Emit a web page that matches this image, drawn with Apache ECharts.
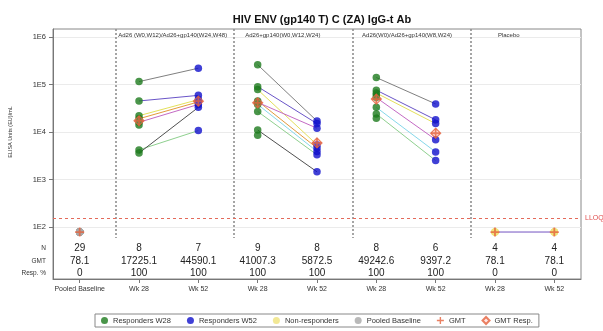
<!DOCTYPE html>
<html>
<head>
<meta charset="utf-8">
<script src="https://cdn.jsdelivr.net/npm/echarts@6/dist/echarts.min.js"></script>
<style>
  html, body { margin: 0; padding: 0; background: #fff; }
  #chart { width: 603px; height: 331px; }
</style>
</head>
<body>
<div id="chart"></div>
<script>
// ---- data ----
const categories = ['Pooled Baseline', 'Wk 28', 'Wk 52', 'Wk 28', 'Wk 52', 'Wk 28', 'Wk 52', 'Wk 28', 'Wk 52'];
const groupNames = ['Ad26 (W0,W12)/Ad26+gp140(W24,W48)', 'Ad26+gp140(W0,W12,W24)', 'Ad26(W0)/Ad26+gp140(W8,W24)', 'Placebo'];
const yTickExponents = [2, 3, 4, 5, 6];
const nValues = [29, 8, 7, 9, 8, 8, 6, 4, 4];
const gmtValues = [78.1, 17225.1, 44590.1, 41007.3, 5872.5, 49242.6, 9397.2, 78.1, 78.1];
const respPct = [0, 100, 100, 100, 100, 100, 100, 0, 0];
const lloq = 156.25;

const pooledBaseline = [78.1, 78.1, 78.1, 78.1, 78.1, 78.1, 78.1, 78.1, 78.1, 78.1,
                        78.1, 78.1, 78.1, 78.1, 78.1, 78.1, 78.1, 78.1, 78.1, 78.1,
                        78.1, 78.1, 78.1, 78.1, 78.1, 78.1, 78.1, 78.1, 78.1];

// subject-level titres per group (null = no sample)
const g1Wk28 = [115000, 45000, 22000, 19000, 16000, 14000, 4200, 3600];
const g1Wk52 = [220000, 59000, 48000, 43000, 38000, null, 10700, 33000];
const g2Wk28 = [260000, 90000, 78000, 45000, 42000, 38000, 27000, 11000, 8500];
const g2Wk52 = [17000, 15000, 5400, 4600, 12000, 3900, 3300, 1450, null];
const g3Wk28 = [140000, 76000, 66000, 60000, 53000, 33000, 24000, 19500];
const g3Wk52 = [39000, 18000, 15000, null, 6900, 3800, 2500, null];
const placeboWk28 = [78.1, 78.1, 78.1, 78.1];
const placeboWk52 = [78.1, 78.1, 78.1, 78.1];

// ---- layout / style ----
const FONT = '"Liberation Sans", Arial, sans-serif';
const Y_MIN = 0.905, Y_MAX = 6.168;      // log10 extent of the value axis
const X_MIN = -0.45, X_MAX = 8.45;
const rowY = [1.551, 1.27, 1.025];        // N / GMT / Resp. % rows (log10 units)
const rowCaptions = ['N', 'GMT', 'Resp. %'];
const headerY = 6.04;
const headerX = [0.65, 2.79, 4.76, 7.05];
const dividerX = [0.6, 2.6, 4.6, 6.6];
const dividerBottom = 1.77;
const subjectColors = ['#808080', '#6a55c8', '#e4e05a', '#e39a3c', '#c46ac4',
                       '#86d8ea', '#8fd08f', '#505050', '#b4a2de'];
const GREEN = '#1d7a1d', BLUE = '#1010cc', YELLOW = '#efe27a', GREY = '#a8a8a8', RED = '#e5613c';
const PLUS = 'path://M4,0H6V4H10V6H6V10H4V6H0V4H4Z';

const lg = v => Math.log10(v);

const groups = [
  { wk28: g1Wk28, wk52: g1Wk52, responders: true },
  { wk28: g2Wk28, wk52: g2Wk52, responders: true },
  { wk28: g3Wk28, wk52: g3Wk52, responders: true },
  { wk28: placeboWk28, wk52: placeboWk52, responders: false }
];

const series = [];

// subject lines from week 28 to week 52
groups.forEach((g, gi) => {
  const x28 = 2 * gi + 1, x52 = 2 * gi + 2;
  g.wk28.forEach((v, si) => {
    const w = g.wk52[si];
    if (v == null || w == null) return;
    series.push({
      type: 'line', silent: true, symbol: 'none', z: 1,
      lineStyle: { width: 1, color: g.responders ? subjectColors[si % subjectColors.length] : '#b4a2de' },
      data: [[x28, lg(v)], [x52, lg(w)]]
    });
  });
});

const w28 = [], w52 = [], nonResp = [];
groups.forEach((g, gi) => {
  const target28 = g.responders ? w28 : nonResp;
  const target52 = g.responders ? w52 : nonResp;
  g.wk28.forEach(v => { if (v != null) target28.push([2 * gi + 1, lg(v)]); });
  g.wk52.forEach(v => { if (v != null) target52.push([2 * gi + 2, lg(v)]); });
});

const pointBase = { type: 'scatter', symbol: 'circle', symbolSize: 7.5, z: 3 };

series.push(Object.assign({}, pointBase, {
  name: 'Responders W28', itemStyle: { color: GREEN }, data: w28
}));
series.push(Object.assign({}, pointBase, {
  name: 'Responders W52', itemStyle: { color: BLUE }, data: w52
}));
series.push(Object.assign({}, pointBase, {
  name: 'Non-responders', itemStyle: { color: YELLOW }, data: nonResp
}));
series.push(Object.assign({}, pointBase, {
  name: 'Pooled Baseline', itemStyle: { color: GREY },
  data: pooledBaseline.map(v => [0, lg(v)]),
  markLine: {
    silent: true, symbol: ['none', 'none'], animation: false,
    label: { show: false },
    data: dividerX.map(x => [
      { coord: [x, Y_MAX], lineStyle: { color: '#8f8f8f', type: [2, 2], width: 1.6 } },
      { coord: [x, dividerBottom] }
    ]).concat([{
      yAxis: lg(lloq),
      lineStyle: { color: '#e46a5a', type: [3, 3], width: 1 },
      label: { show: true, position: 'end', formatter: 'LLOQ', color: '#e05050', fontSize: 7, fontFamily: FONT, distance: 4 }
    }])
  }
}));
series.push({
  name: 'GMT', type: 'scatter', symbol: PLUS, symbolSize: 9, z: 5,
  itemStyle: { color: RED },
  data: gmtValues.map((v, i) => [i, lg(v)])
});
series.push({
  name: 'GMT Resp.', type: 'scatter', symbol: 'diamond', symbolSize: 10, z: 4,
  itemStyle: { color: 'rgba(255,170,170,0.35)', borderColor: RED, borderWidth: 1.2 },
  data: gmtValues.map((v, i) => [i, lg(v)]).filter((d, i) => respPct[i] > 0)
});

// N / GMT / Resp. % table rows inside the frame
const rowTexts = [nValues.map(String), gmtValues.map(v => String(v)), respPct.map(String)];
const tableData = [];
rowTexts.forEach((row, r) => row.forEach((t, i) => tableData.push([i, r])));
series.push({
  type: 'custom', silent: true, clip: false, z: 6,
  data: tableData,
  renderItem: (params, api) => {
    const i = api.value(0), r = api.value(1);
    const p = api.coord([i, rowY[r]]);
    return {
      type: 'text', x: p[0], y: p[1],
      style: { text: rowTexts[r][i], fill: '#222', font: '10px ' + FONT, align: 'center', verticalAlign: 'middle' }
    };
  }
});
// row captions left of the frame
series.push({
  type: 'custom', silent: true, clip: false, z: 6,
  data: rowCaptions.map((c, r) => [X_MIN, r]),
  renderItem: (params, api) => {
    const r = api.value(1);
    const p = api.coord([X_MIN, rowY[r]]);
    return {
      type: 'text', x: p[0] - 7, y: p[1],
      style: { text: rowCaptions[r], fill: '#333', font: '6.5px ' + FONT, align: 'right', verticalAlign: 'middle' }
    };
  }
});
// treatment group headers
series.push({
  type: 'custom', silent: true, clip: false, z: 6,
  data: groupNames.map((n, g) => [headerX[g], g]),
  renderItem: (params, api) => {
    const g = api.value(1);
    const p = api.coord([headerX[g], headerY]);
    return {
      type: 'text', x: p[0], y: p[1],
      style: { text: groupNames[g], fill: '#333', font: '6px ' + FONT, align: 'left', verticalAlign: 'middle' }
    };
  }
});

const option = {
  animation: false,
  backgroundColor: '#fff',
  title: {
    text: 'HIV ENV (gp140 T) C (ZA) IgG-t Ab',
    left: 317, top: 9, textAlign: 'center',
    textStyle: { fontSize: 11, fontWeight: 'bold', color: '#111', fontFamily: FONT }
  },
  legend: {
    left: 95, top: 314,
    data: ['Responders W28', 'Responders W52', 'Non-responders', 'Pooled Baseline', 'GMT', 'GMT Resp.'],
    itemWidth: 7, itemHeight: 7, itemGap: 16,
    borderColor: '#888', borderWidth: 1, padding: [2, 6],
    textStyle: { fontSize: 7.5, color: '#333', fontFamily: FONT }
  },
  grid: {
    left: 53, right: 22, top: 29, bottom: 52,
    show: true, borderColor: '#888', borderWidth: 1
  },
  xAxis: {
    type: 'value', min: X_MIN, max: X_MAX,
    axisLine: { show: true, onZero: false, lineStyle: { color: '#777' } },
    axisTick: { show: true, length: 4, customValues: categories.map((c, i) => i), lineStyle: { color: '#777' } },
    axisLabel: {
      customValues: categories.map((c, i) => i),
      formatter: v => categories[Math.round(v)],
      fontSize: 7, color: '#333', fontFamily: FONT, margin: 7
    },
    splitLine: { show: false }
  },
  yAxis: {
    type: 'value', min: Y_MIN, max: Y_MAX,
    axisLine: { show: true, onZero: false, lineStyle: { color: '#777' } },
    axisTick: { show: true, length: 4, customValues: yTickExponents, lineStyle: { color: '#777' } },
    axisLabel: {
      customValues: yTickExponents,
      formatter: v => '1E' + v,
      fontSize: 7.5, color: '#333', fontFamily: FONT, margin: 7
    },
    splitLine: { show: true, lineStyle: { color: '#ebebeb', width: 1 } }
  },
  graphic: [{
    type: 'text', x: 10, y: 132, rotation: Math.PI / 2,
    style: { text: 'ELISA Units (EU)/mL', fill: '#333', font: '5.5px ' + FONT, align: 'center', verticalAlign: 'middle' }
  }],
  series: series
};

const chart = echarts.init(document.getElementById('chart'), null, { renderer: 'canvas' });
chart.setOption(option);
</script>
</body>
</html>
